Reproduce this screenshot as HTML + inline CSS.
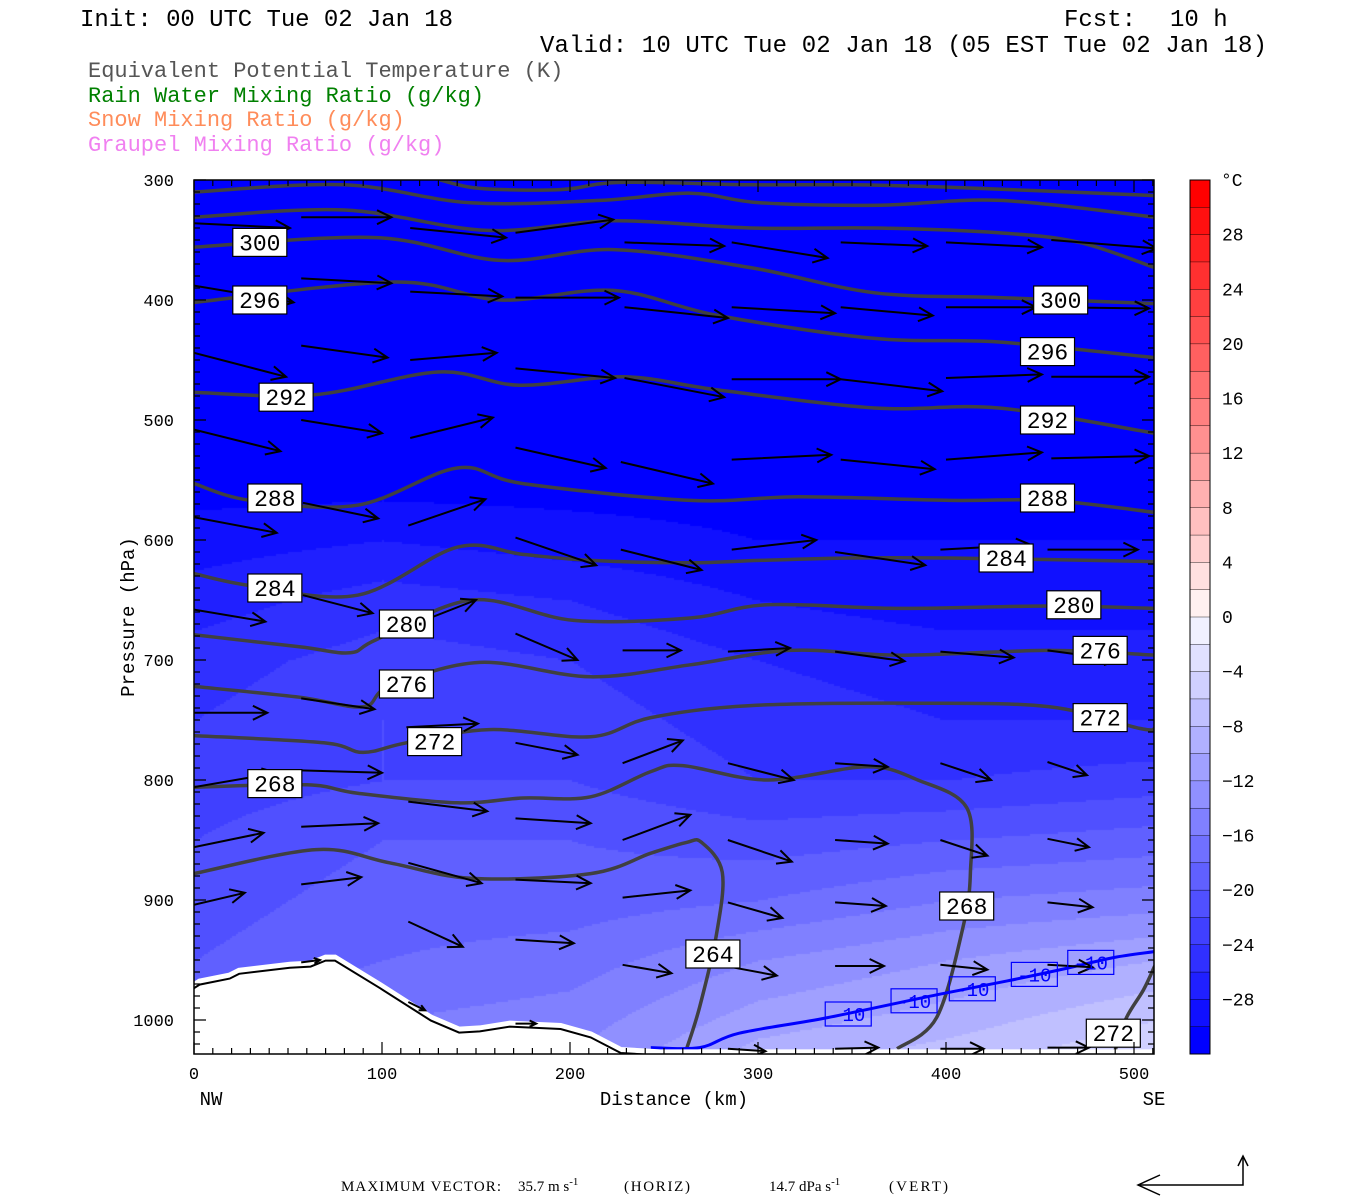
<!DOCTYPE html>
<html><head><meta charset="utf-8">
<style>
html,body{margin:0;padding:0;background:#fff;}
#wrap{position:relative;width:1350px;height:1200px;overflow:hidden;background:#fff;}
#heat{position:absolute;left:194px;top:180px;}
#svg{position:absolute;left:0;top:0;}
text{font-family:"Liberation Mono",monospace;}
</style></head>
<body>
<div id="wrap">
<canvas id="heat" width="960" height="874"></canvas>
<svg id="svg" width="1350" height="1200" xmlns="http://www.w3.org/2000/svg">
  <g>
    <text x="80" y="26" font-size="24" textLength="373" fill="#000">Init: 00 UTC Tue 02 Jan 18</text>
    <text x="1064" y="26" font-size="24" fill="#000">Fcst:</text>
    <text x="1170" y="26" font-size="24" fill="#000">10 h</text>
    <text x="540" y="52" font-size="24" textLength="727" fill="#000">Valid: 10 UTC Tue 02 Jan 18 (05 EST Tue 02 Jan 18)</text>
    <text x="88" y="77" font-size="22" fill="#555">Equivalent Potential Temperature (K)</text>
    <text x="88" y="102" font-size="22" fill="#008000">Rain Water Mixing Ratio (g/kg)</text>
    <text x="88" y="126" font-size="22" fill="#ff8c5a">Snow Mixing Ratio (g/kg)</text>
    <text x="88" y="151" font-size="22" fill="#f080f0">Graupel Mixing Ratio (g/kg)</text>
  </g>
  <g id="plot"></g>
  <g id="axes"></g>
  <g id="cbar"></g>
  <g>
    <text x="341" y="1191" font-size="15" style="font-family:'Liberation Serif',serif"><tspan textLength="160">MAXIMUM VECTOR:</tspan><tspan x="518">35.7 m s</tspan><tspan dy="-6" font-size="11">-1</tspan><tspan x="624" dy="6" textLength="66">(HORIZ)</tspan></text>
    <text x="769" y="1191" font-size="15" style="font-family:'Liberation Serif',serif">14.7 dPa s<tspan dy="-6" font-size="11">-1</tspan><tspan x="889" dy="6" textLength="59">(VERT)</tspan></text>
    <g stroke="#000" stroke-width="1.5" fill="none">
      <path d="M1243 1158 L1243 1185 L1138 1185"/>
      <path d="M1160 1175 L1138 1185 L1160 1195"/>
      <path d="M1238 1166 L1243 1156 L1248 1166"/>
    </g>
  </g>
</svg>
</div>
<script>
// ---------- DATA ----------
const tempPressures=[300,450,500,550,600,650,700,750,800,850,900,950,1000,1030];
const tempDistances=[0,100,200,300,400,511];
const tempRow300=[-40,-40,-40,-40,-40,-40];
const tempRow450=[-36,-36,-36,-36,-36,-36];
const tempRow500=[-33,-33,-33,-33,-33,-33];
const tempRow550=[-31,-31,-31,-31,-31,-31];
const tempRow600=[-29,-28,-29,-30,-30,-30];
const tempRow650=[-27,-25,-26,-28,-29,-29];
const tempRow700=[-25,-23,-24,-26,-27,-27];
const tempRow750=[-24,-22,-23,-25,-26,-26];
const tempRow800=[-23,-22,-22,-24,-24,-23];
const tempRow850=[-22,-20,-20,-21,-20,-19];
const tempRow900=[-21,-19,-19,-18,-16,-15];
const tempRow950=[-20,-18,-17,-14,-12,-10];
const tempRow1000=[-18,-16,-15,-11,-9,-6];
const tempRow1030=[-17,-15,-14,-9,-7,-4];
const tempGrid=[tempRow300,tempRow450,tempRow500,tempRow550,tempRow600,tempRow650,tempRow700,tempRow750,tempRow800,tempRow850,tempRow900,tempRow950,tempRow1000,tempRow1030];

// theta-e contours: [km, hPa]
const theta312=[[131,300],[152,307],[195,308],[227,302],[296,304],[349,304],[402,306],[511,313]];
const theta308=[[0,310],[80,304],[147,319],[216,317],[264,311],[301,319],[365,321],[429,317],[511,331]];
const theta304=[[0,331],[80,325],[156,342],[223,334],[296,340],[362,340],[428,344],[471,352],[511,373]];
const theta300=[[0,356],[97,348],[163,367],[223,358],[296,373],[362,394],[428,398],[511,403]];
const theta296=[[0,402],[107,385],[163,400],[223,392],[279,413],[362,432],[428,435],[511,448]];
const theta292=[[0,477],[64,479],[130,460],[173,471],[229,464],[279,475],[362,490],[428,490],[511,511]];
const theta288=[[0,553],[30,567],[87,571],[140,540],[175,553],[264,567],[322,564],[402,567],[455,567],[511,577]];
const theta284=[[0,628],[30,638],[87,646],[140,606],[175,612],[211,617],[264,619],[301,617],[349,615],[402,615],[511,618]];
const theta280=[[0,679],[56,689],[83,694],[97,683],[148,650],[202,667],[264,665],[305,654],[376,657],[455,655],[511,657]];
const theta276=[[0,722],[56,731],[90,739],[104,722],[152,702],[211,714],[264,704],[317,692],[376,696],[455,692],[511,696]];
const theta272=[[0,763],[69,769],[90,777],[113,769],[157,758],[211,764],[243,748],[296,738],[385,736],[455,739],[503,757],[511,757]];
const theta268=[[0,806],[60,804],[87,811],[140,819],[175,815],[211,814],[243,793],[260,788],[305,800],[358,789],[385,800],[411,823],[413,877],[409,923],[395,998],[374,1024]];
const theta264=[[0,878],[65,858],[104,869],[148,882],[211,878],[243,861],[262,852],[270,852],[281,877],[278,928],[269,989],[262,1024]];
const theta272b=[[511,955],[505,975],[496,998],[490,1025]];
const thetaLines=[theta312,theta308,theta304,theta300,theta296,theta292,theta288,theta284,theta280,theta276,theta272,theta268,theta264,theta272b];
const thetaLabelText=["300","296","292","288","284","280","276","272","268","300","296","292","288","284","280","276","272","268","264","272"];
const thetaLabelKm=[35,35,49,43,43,113,113,128,43,461,454,454,454,432,468,482,482,411,276,489];
const thetaLabelHpa=[352,400,481,565,640,670,720,768,803,400,443,500,565,615,654,692,748,905,945,1011];

// -10 C isotherm
const isoMinus10=[[243,1023],[269,1023],[290,1011],[337,998],[395,979],[434,967],[464,957],[489,948],[511,943]];
const isoLabelKm=[348,383,414,447,477];
const isoLabelHpa=[995,984,974,962,952];

// terrain surface [km, hPa]
const terrain=[[0,971],[3,968],[19,963],[24,959],[51,954],[62,953],[70,948],[75,948],[99,971],[126,998],[141,1008],[152,1007],[168,1003],[195,1005],[211,1012],[227,1025],[248,1027],[511,1027]];

// wind vectors: tail km, tail hPa, u (km units), w (hPa units)
const windKm=[0,57,115,171,229,286,344,400,456, 0,57,115,171,229,286,344,400,456, 0,57,115,171,229,286,344,400,456, 0,57,115,171,227,286,344,400,456, 0,58,114,171,227,286,341,397,454, 0,58,114,171,228,284,341,397,454, 0,57,113,171,228, 0,57,114,171,228,284,341,397,454, 0,57,114,171,228,284,341,397,454, 0,57,114,171,228,284,341,397,454, 286,341,397,454, 284,341,397,454, 57,114,171];
const windHpa=[336,331,340,344,352,352,352,352,350, 388,382,393,398,406,406,406,406,406, 444,438,450,457,465,466,466,465,464, 508,500,515,523,535,533,533,533,532, 581,569,588,598,608,608,610,608,608, 658,646,672,678,692,693,693,693,692, 744,732,756,769,786, 806,792,818,832,850,786,786,786,785, 856,839,869,883,898,850,850,850,849, 904,887,918,933,954,902,902,902,902, 956,955,954,954, 1024,1024,1024,1023, 952,985,1003];
const windU=[51,48,51,52,53,51,46,51,56, 53,48,49,55,55,55,49,48,52, 49,46,46,53,53,58,54,51,52, 46,43,44,48,49,53,50,51,52, 44,40,41,43,43,45,48,48,48, 38,37,36,33,31,33,37,39,38, 39,39,38,33,32, 44,43,42,40,36,35,28,27,21, 37,41,39,40,36,34,28,25,22, 27,32,29,31,26,29,27,27,24, 24,26,25,24, 20,23,23,22, 10,9,11];
const windW=[4,0,8,-11,3,13,3,4,7, 14,4,4,0,9,5,7,0,1, 20,10,-6,8,16,0,10,-3,0, 18,11,-17,17,18,-4,8,-6,-2, 13,13,-22,23,17,-8,11,-4,0, 10,15,-22,22,0,-3,8,5,8, 0,9,-3,10,-19, -12,2,8,4,-21,14,3,14,11, -12,-3,17,3,-6,18,3,13,7, -10,-6,21,3,7,13,3,4,4, 7,0,4,2, 2,-1,0,0, -2,7,0];

// ---------- SCALES ----------
const X0=194,Y0=180,W=960,H=874;
const KM_PX=1.88, HPA_PX=1.2, P_TOP=300, P_BOT=P_TOP+H/HPA_PX, KM_MAX=W/KM_PX;
function xs(km){return X0+km*KM_PX;}
function ys(p){return Y0+(p-P_TOP)*HPA_PX;}
const NS="http://www.w3.org/2000/svg";
function mk(tag,attrs,parent){const e=document.createElementNS(NS,tag);for(const k in attrs)e.setAttribute(k,attrs[k]);parent.appendChild(e);return e;}

// ---------- HEATMAP ----------
function interpT(km,p){
  let i=0;while(i<tempPressures.length-2&&p>tempPressures[i+1])i++;
  let j=0;while(j<tempDistances.length-2&&km>tempDistances[j+1])j++;
  let ty=(p-tempPressures[i])/(tempPressures[i+1]-tempPressures[i]);ty=Math.max(0,Math.min(1,ty));
  let tx=(km-tempDistances[j])/(tempDistances[j+1]-tempDistances[j]);tx=Math.max(0,Math.min(1,tx));
  const a=tempGrid[i][j],b=tempGrid[i][j+1],c=tempGrid[i+1][j],d=tempGrid[i+1][j+1];
  return (a*(1-tx)+b*tx)*(1-ty)+(c*(1-tx)+d*tx)*ty;
}
function tColor(T){
  if(T>=0){let b=Math.floor((32-T)/2);b=Math.max(0,Math.min(15,b));return [255,16*b,16*b];}
  let b=Math.floor((T+32)/2);b=Math.max(0,Math.min(15,b));const v=16*b;return [v,v,255];
}
(function(){
  const cv=document.getElementById('heat');const ctx=cv.getContext('2d');
  const img=ctx.createImageData(W,H);const step=2;
  for(let py=0;py<H;py+=step){const p=P_TOP+py/HPA_PX;
    for(let px=0;px<W;px+=step){const km=px/KM_PX;const c=tColor(interpT(km,p)+1e-6);
      for(let dy=0;dy<step;dy++)for(let dx=0;dx<step;dx++){const idx=((py+dy)*W+(px+dx))*4;img.data[idx]=c[0];img.data[idx+1]=c[1];img.data[idx+2]=c[2];img.data[idx+3]=255;}
    }}
  ctx.putImageData(img,0,0);
})();

// ---------- PLOT ----------
const plot=document.getElementById('plot');
function smoothPath(pts){
  const P=pts.map(q=>[xs(q[0]),ys(q[1])]);
  let d="M"+P[0][0].toFixed(1)+" "+P[0][1].toFixed(1);
  for(let i=0;i<P.length-1;i++){
    const p0=P[Math.max(0,i-1)],p1=P[i],p2=P[i+1],p3=P[Math.min(P.length-1,i+2)];
    const c1=[p1[0]+(p2[0]-p0[0])/6,p1[1]+(p2[1]-p0[1])/6];
    const c2=[p2[0]-(p3[0]-p1[0])/6,p2[1]-(p3[1]-p1[1])/6];
    d+=" C"+c1[0].toFixed(1)+" "+c1[1].toFixed(1)+" "+c2[0].toFixed(1)+" "+c2[1].toFixed(1)+" "+p2[0].toFixed(1)+" "+p2[1].toFixed(1);
  }
  return d;
}
const clip=mk('clipPath',{id:'pclip'},mk('defs',{},plot));
mk('rect',{x:X0,y:Y0,width:W,height:H},clip);
const gLines=mk('g',{'clip-path':'url(#pclip)'},plot);


thetaLines.forEach(function(line){
  const e=mk('path',{d:smoothPath(line),fill:'none',stroke:'#404040','stroke-width':3.5},gLines);
  
  
});
const iso=mk('path',{d:smoothPath(isoMinus10),fill:'none',stroke:'#0000ff','stroke-width':3},gLines);



// terrain
(function(){
  let d="M"+xs(terrain[0][0])+" "+ys(terrain[0][1]);
  terrain.forEach(q=>{d+=" L"+xs(q[0]).toFixed(1)+" "+ys(q[1]).toFixed(1);});
  d+=" L"+xs(KM_MAX)+" "+(Y0+H)+" L"+X0+" "+(Y0+H)+" Z";
  const t=mk('path',{d:d,fill:'#fff',stroke:'#fff','stroke-width':6},gLines);
  
  
  let d2="M"+xs(terrain[0][0])+" "+(ys(terrain[0][1])+3);
  terrain.forEach(q=>{d2+=" L"+xs(q[0]).toFixed(1)+" "+(ys(q[1])+3).toFixed(1);});
  const tl=mk('path',{d:d2,fill:'none',stroke:'#000','stroke-width':2},gLines);
  
  
})();

// wind arrows
const gW=mk('g',{stroke:'#000','stroke-width':2,fill:'none','clip-path':'url(#pclip)'},plot);


for(let i=0;i<windKm.length;i++){
  const x1=xs(windKm[i]),y1=ys(windHpa[i]);
  const x2=x1+windU[i]*KM_PX,y2=y1+windW[i]*HPA_PX;
  const L=Math.hypot(x2-x1,y2-y1);const hl=Math.min(16,L*0.35);
  const ang=Math.atan2(y2-y1,x2-x1);
  const a1=ang+Math.PI-0.45,a2=ang+Math.PI+0.45;
  const d="M"+x1.toFixed(1)+" "+y1.toFixed(1)+" L"+x2.toFixed(1)+" "+y2.toFixed(1)+
   " M"+(x2+hl*Math.cos(a1)).toFixed(1)+" "+(y2+hl*Math.sin(a1)).toFixed(1)+" L"+x2.toFixed(1)+" "+y2.toFixed(1)+
   " L"+(x2+hl*Math.cos(a2)).toFixed(1)+" "+(y2+hl*Math.sin(a2)).toFixed(1);
  const a=mk('path',{d:d},gW);
  
  
}

// contour labels
const gL=mk('g',{},plot);


for(let i=0;i<thetaLabelText.length;i++){
  const cx=xs(thetaLabelKm[i]),cy=ys(thetaLabelHpa[i]);
  const r=mk('rect',{x:cx-27,y:cy-14,width:54,height:28,fill:'#fff',stroke:'#000','stroke-width':1.2},gL);
  
  
  const t=mk('text',{x:cx,y:cy+8,'text-anchor':'middle','font-size':23,fill:'#000'},gL);
  t.textContent=thetaLabelText[i];
  
  
}
for(let i=0;i<isoLabelKm.length;i++){
  const cx=xs(isoLabelKm[i]),cy=ys(isoLabelHpa[i]);
  const r=mk('rect',{x:cx-23,y:cy-12,width:46,height:24,fill:'none',stroke:'#0000ff','stroke-width':1.2},gL);
  
  
  const t=mk('text',{x:cx,y:cy+7,'text-anchor':'middle','font-size':19,fill:'#0000ff'},gL);
  t.textContent="-10";
  
  
}

// ---------- AXES ----------
const axes=document.getElementById('axes');
const fr=mk('rect',{x:X0,y:Y0,width:W,height:H,fill:'none',stroke:'#000','stroke-width':1.5},axes);


let td="";
for(let p=300;p<=P_BOT;p+=10){const y=ys(p);const L=(p%100===0)?12:6;td+="M"+X0+" "+y+" h"+L+" M"+(X0+W)+" "+y+" h"+(-L)+" ";}
for(let k=0;k<=KM_MAX;k+=10){const x=xs(k);const L=(k%100===0)?12:6;td+="M"+x+" "+(Y0+H)+" v"+(-L)+" M"+x+" "+Y0+" v"+L+" ";}
const tk=mk('path',{d:td,stroke:'#000','stroke-width':1.2,fill:'none'},axes);


const yTicks=[300,400,500,600,700,800,900,1000];
yTicks.forEach(function(p){
  const t=mk('text',{x:174,y:ys(p)+6,'text-anchor':'end','font-size':17},axes);
  t.textContent=String(p);
  
  
});
const xTicks=[0,100,200,300,400,500];
xTicks.forEach(function(k){
  const t=mk('text',{x:xs(k),y:1079,'text-anchor':'middle','font-size':17},axes);
  t.textContent=String(k);
  
  
});
(function(){
  let t=mk('text',{x:0,y:0,'text-anchor':'middle','font-size':19,transform:'translate(134,617) rotate(-90)'},axes);
  t.textContent="Pressure (hPa)";
  t=mk('text',{x:674,y:1105,'text-anchor':'middle','font-size':19},axes);
  t.textContent="Distance (km)";
  t=mk('text',{x:211,y:1105,'text-anchor':'middle','font-size':19},axes);
  t.textContent="NW";
  t=mk('text',{x:1154,y:1105,'text-anchor':'middle','font-size':19},axes);
  t.textContent="SE";
})();

// ---------- COLORBAR ----------
const cbarLevels=[32,28,24,20,16,12,8,4,0,-4,-8,-12,-16,-20,-24,-28,-32];
const cbarLabels=["28","24","20","16","12","8","4","0","\u22124","\u22128","\u221212","\u221216","\u221220","\u221224","\u221228"];
const cb=document.getElementById('cbar');
const CBX=1190,CBW=20,CBT=180,CBH=874;
function cy(T){return CBT+(32-T)*CBH/64;}
for(let T=32;T>-32;T-=2){
  const mid=T-1;let c;
  if(mid>0){const b=Math.floor((32-mid)/2);const v=Math.round(b*16);c=[255,v,v];}
  else{const b=Math.floor((mid+32)/2);const v=b*16;c=[v,v,255];}
  const r=mk('rect',{x:CBX,y:cy(T),width:CBW,height:CBH/32+0.3,fill:'rgb('+c[0]+','+c[1]+','+c[2]+')',stroke:'#000','stroke-width':0.4},cb);
  
  
}
mk('rect',{x:CBX,y:CBT,width:CBW,height:CBH,fill:'none',stroke:'#000','stroke-width':1},cb);
(function(){
  const t=mk('text',{x:1221,y:186,'font-size':18},cb);t.textContent="\u00B0C";
  
})();
for(let i=0;i<cbarLabels.length;i++){
  const T=cbarLevels[i+1];
  const t=mk('text',{x:1222,y:cy(T)+6,'font-size':18},cb);
  t.textContent=cbarLabels[i];
  
  
}
</script>
</body></html>
